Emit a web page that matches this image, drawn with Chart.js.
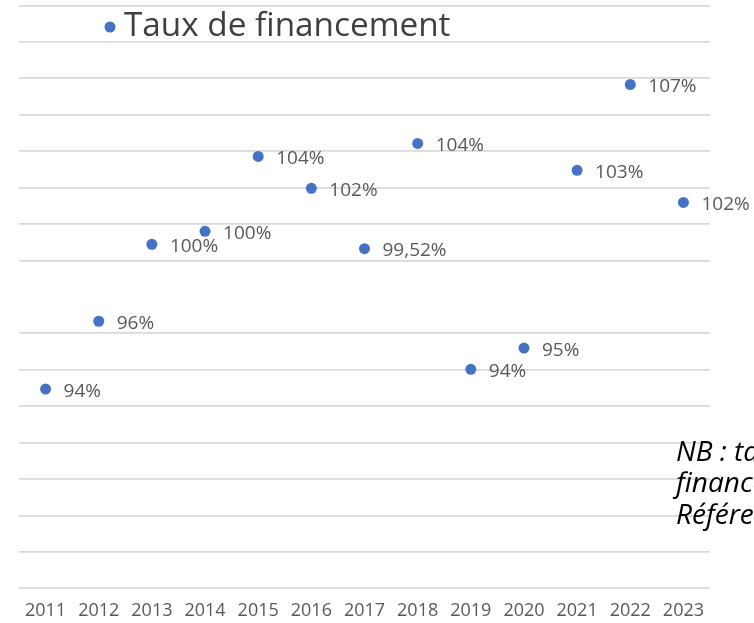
<!DOCTYPE html>
<html><head><meta charset="utf-8">
<script src="https://cdn.jsdelivr.net/npm/chart.js@4/dist/chart.umd.min.js"></script>
<style>html,body{margin:0;padding:0;background:#fff;overflow:hidden}</style>
</head><body>
<canvas id="c" width="754" height="623"></canvas>
<script>
const years = ['2011','2012','2013','2014','2015','2016','2017','2018','2019','2020','2021','2022','2023'];
const tauxValues = [93.35, 96.33, 99.71, 100.28, 103.57, 102.17, 99.52, 104.14, 94.22, 95.15, 102.96, 106.73, 101.55];
const tauxLabels = ['94%','96%','100%','100%','104%','102%','99,52%','104%','94%','95%','103%','107%','102%'];
const seriesName = 'Taux de financement';
const noteLines = ['NB : taux de', 'financement', 'Référence'];
const yMin = 84.6, yMax = 110.2, yStep = 1.6;

const FONT = '"Open Sans", "Noto Sans", sans-serif';
const BLUE = '#4472C4';
const GRAY = '#595959';

const decor = {
  id: 'decor',
  afterDatasetsDraw(chart) {
    const ctx = chart.ctx;
    const meta = chart.getDatasetMeta(0);
    ctx.save();
    ctx.font = '19px ' + FONT;
    ctx.fillStyle = GRAY;
    ctx.textAlign = 'left';
    ctx.textBaseline = 'middle';
    meta.data.forEach((pt, i) => {
      ctx.fillText(tauxLabels[i], pt.x + 18, pt.y + 2);
    });
    ctx.restore();
  },
  afterDraw(chart) {
    const ctx = chart.ctx;
    ctx.save();
    // legend
    ctx.fillStyle = BLUE;
    ctx.beginPath();
    ctx.arc(110, 27, 5.5, 0, Math.PI * 2);
    ctx.fill();
    ctx.fillStyle = '#404040';
    ctx.font = '33.3px ' + FONT;
    ctx.textAlign = 'left';
    ctx.textBaseline = 'middle';
    ctx.fillText(chart.data.datasets[0].label, 124, 27);
    // note
    ctx.fillStyle = '#000000';
    ctx.font = 'italic 28px ' + FONT;
    noteLines.forEach((t, i) => ctx.fillText(t, 676, 453 + i * 31.5));
    ctx.restore();
  }
};

new Chart(document.getElementById('c'), {
  type: 'line',
  data: {
    labels: years,
    datasets: [{
      label: seriesName,
      data: tauxValues,
      showLine: false,
      pointRadius: 5.5,
      pointHoverRadius: 5.5,
      pointBackgroundColor: BLUE,
      pointBorderColor: BLUE,
      pointBorderWidth: 0,
      borderColor: BLUE,
      backgroundColor: BLUE,
      clip: false
    }]
  },
  options: {
    responsive: false,
    animation: false,
    events: [],
    layout: { padding: { left: 19, right: 44, top: 5, bottom: 4 } },
    plugins: { legend: { display: false }, tooltip: { enabled: false } },
    scales: {
      x: {
        offset: true,
        grid: { display: false, drawTicks: false, tickLength: 0 },
        border: { display: false },
        ticks: { color: GRAY, font: { family: FONT, size: 18 }, padding: 12, maxRotation: 0, autoSkip: false },
        afterFit(axis) { axis.height = 30.7; }
      },
      y: {
        min: yMin, max: yMax,
        ticks: { display: false, stepSize: yStep },
        border: { display: false },
        grid: {
          drawTicks: false,
          lineWidth: 1.8,
          color: ctx => ctx.index === 8 ? 'rgba(0,0,0,0)' : '#d9d9d9'
        },
        afterFit(axis) { axis.width = 0; }
      }
    }
  },
  plugins: [decor]
});
</script>
</body></html>
